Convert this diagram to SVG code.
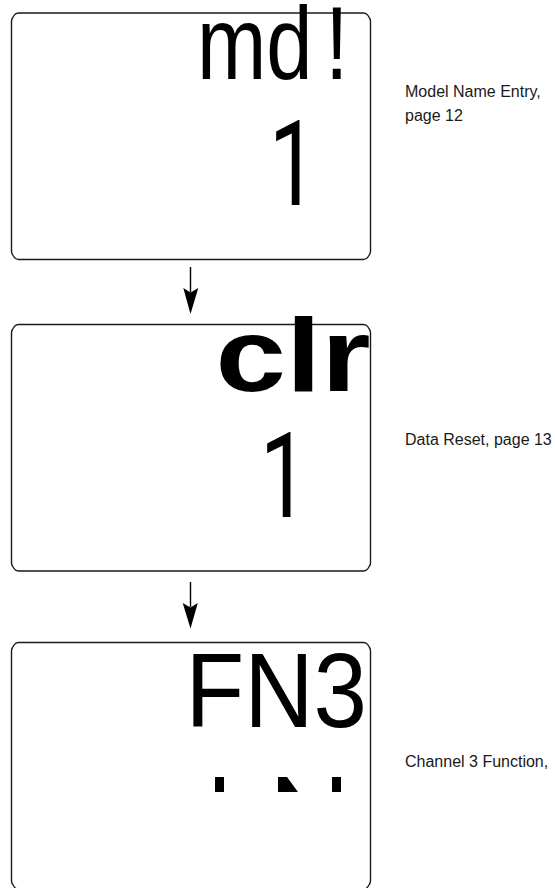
<svg xmlns="http://www.w3.org/2000/svg" xmlns:xlink="http://www.w3.org/1999/xlink" width="555" height="888" viewBox="0 0 555 888">
  <style>
    .box { fill: #ffffff; stroke: #1a1a1a; stroke-width: 1.4; }
    .big { font-family: "Liberation Sans", Arial, sans-serif; fill: #000000; }
    .digit { font-family: Roboto, "Liberation Sans", Arial, sans-serif; fill: #000000; }
    .bold { font-weight: bold; }
    .label { font-family: "Liberation Sans", Arial, sans-serif; font-size: 16px; fill: #1a1a1a; }
    .conn { stroke: #000000; stroke-width: 1.4; fill: none; }
    .head { fill: #000000; stroke: none; }
  </style>
  <defs>
    <path id="lcd" d="M7,0 H352 Q355,0 356.5,2.5 L358,5 Q359,6.5 359,8.5 V238 Q359,240 358,241.5 L356.5,244 Q355,246.5 352,246.5 H7 Q4,246.5 2.5,244 L1,241.5 Q0,240 0,238 V8.5 Q0,6.5 1,5 L2.5,2.5 Q4,0 7,0 Z"/>
  </defs>
  <rect width="555" height="888" fill="#ffffff"/>

  <g id="node-model-name">
    <use xlink:href="#lcd" href="#lcd" class="box" x="11.5" y="13"/>
    <text class="big" font-size="104" word-spacing="-13" transform="translate(197,79) scale(0.8,1)">md !</text>
    <text class="digit" font-size="119" transform="translate(269,205) scale(0.72,1)">1</text>
    <text class="label" x="405" y="97">Model Name Entry,</text>
    <text class="label" x="405" y="121">page 12</text>
  </g>

  <g id="node-data-reset">
    <use xlink:href="#lcd" href="#lcd" class="box" x="11.5" y="324.5"/>
    <text class="big bold" font-size="103" transform="translate(215.5,391) scale(1.23,1)">clr</text>
    <text class="digit" font-size="119" transform="translate(260,517) scale(0.72,1)">1</text>
    <text class="label" x="405" y="445">Data Reset, page 13</text>
  </g>

  <g id="node-ch3-function">
    <use xlink:href="#lcd" href="#lcd" class="box" x="11.5" y="642.5"/>
    <text class="big" font-size="105" transform="translate(185.4,727) scale(0.916,1)">FN3</text>
    <rect x="215" y="777" width="9" height="15" fill="#000000"/>
    <polygon points="278,777 287,777 298,792 278,792" fill="#000000"/>
    <rect x="332" y="777" width="9" height="15" fill="#000000"/>
    <text class="label" x="405" y="767">Channel 3 Function,</text>
  </g>

  <g id="connectors">
    <line class="conn" x1="190.5" y1="267" x2="190.5" y2="292"/>
    <polygon class="head" points="183.3,288 190.5,292.5 198.3,288 190.5,314"/>
    <line class="conn" x1="190.5" y1="582" x2="190.5" y2="607"/>
    <polygon class="head" points="182.7,603 190.5,607.5 197.8,603 190.5,628.5"/>
  </g>
</svg>
